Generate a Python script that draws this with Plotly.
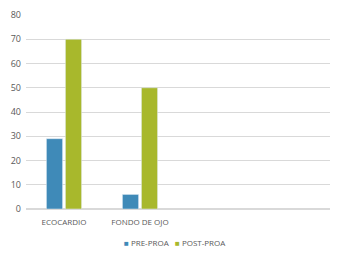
import plotly.graph_objects as go

categories = ["ECOCARDIO", "FONDO DE OJO"]
pre_proa = [29, 6]
post_proa = [70, 50]
y_ticks = [0, 10, 20, 30, 40, 50, 60, 70, 80]
series_names = ["PRE-PROA", "POST-PROA"]
colors = ["#3F8AB8", "#A8B82C"]

font = dict(family="Open Sans", size=8, color="#595959")

fig = go.Figure()
fig.add_trace(go.Bar(name=series_names[0], x=categories, y=pre_proa, marker_color=colors[0]))
fig.add_trace(go.Bar(name=series_names[1], x=categories, y=post_proa, marker_color=colors[1]))

legend_text = "&nbsp;&nbsp;&nbsp;".join(
    f"<span style='color:{c}'>■</span> {n}" for n, c in zip(series_names, colors)
)

fig.update_layout(
    width=341, height=260,
    margin=dict(l=26, r=11, t=15, b=51, autoexpand=False),
    paper_bgcolor="white", plot_bgcolor="white",
    barmode="group", bargap=0.5, bargroupgap=0.15,
    font=font,
    showlegend=False,
    annotations=[dict(text=legend_text, xref="paper", yref="paper", x=0.49, y=-0.175,
                      xanchor="center", yanchor="middle", showarrow=False,
                      font=dict(family="Open Sans", size=8, color="#595959"))],
)
fig.update_xaxes(type="category", range=[-0.5, 3.5], showgrid=False, showline=False,
                 ticks="", tickfont=font, ticklabelstandoff=7, automargin=False)
fig.update_yaxes(range=[0, 80], tickvals=y_ticks, showgrid=True, gridcolor="#D9D9D9",
                 gridwidth=1, zeroline=True, zerolinecolor="#D9D9D9", showline=False,
                 ticks="", tickfont=dict(family="Open Sans", size=9, color="#595959"),
                 ticklabelstandoff=4, automargin=False)

fig.write_html("out.html", config={"displayModeBar": False},
               post_script="document.body.style.margin='0';")
